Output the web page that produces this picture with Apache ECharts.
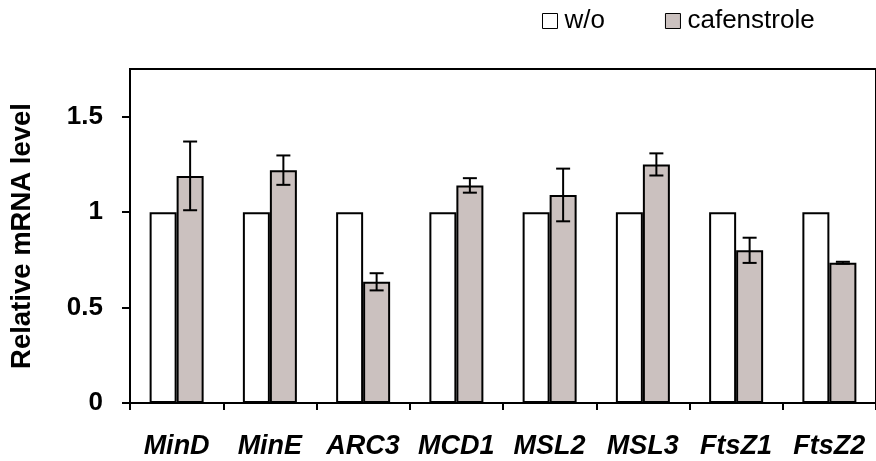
<!DOCTYPE html>
<html>
<head>
<meta charset="utf-8">
<script src="https://cdn.jsdelivr.net/npm/echarts@6/dist/echarts.min.js"></script>
<style>
  html, body { margin: 0; padding: 0; background: #fff; }
  #chart { width: 876px; height: 461px; }
</style>
</head>
<body>
<div id="chart"></div>
<script>
// data
const categories = ['MinD', 'MinE', 'ARC3', 'MCD1', 'MSL2', 'MSL3', 'FtsZ1', 'FtsZ2'];
const woValues = [1, 1, 1, 1, 1, 1, 1, 1];
const cafValues = [1.19, 1.22, 0.635, 1.14, 1.09, 1.25, 0.80, 0.735];
const cafErrors = [0.18, 0.077, 0.045, 0.038, 0.138, 0.058, 0.066, 0.005];
const yTicks = [0, 0.5, 1, 1.5];

const FONT = '"Liberation Sans", Arial, sans-serif';
const BAR_W = 27;
const CAP = 7;

const chart = echarts.init(document.getElementById('chart'));

// error bars drawn on the cafenstrole bars
const errData = categories.map((c, i) => [i, cafValues[i], cafErrors[i]]);
const renderErr = (params, api) => {
  const i = api.value(0);
  const v = api.value(1);
  const e = api.value(2);
  const hi = api.coord([i, v + e]);
  const lo = api.coord([i, v - e]);
  const x = hi[0] + BAR_W / 2;
  const st = { stroke: '#000', lineWidth: 2 };
  return {
    type: 'group',
    children: [
      { type: 'line', shape: { x1: x, y1: hi[1], x2: x, y2: lo[1] }, style: st },
      { type: 'line', shape: { x1: x - CAP, y1: hi[1], x2: x + CAP, y2: hi[1] }, style: st },
      { type: 'line', shape: { x1: x - CAP, y1: lo[1], x2: x + CAP, y2: lo[1] }, style: st }
    ]
  };
};

const option = {
  animation: false,
  textStyle: { fontFamily: FONT },
  legend: {
    data: ['w/o', 'cafenstrole'],
    left: 537,
    top: 3,
    icon: 'rect',
    itemWidth: 15,
    itemHeight: 15,
    itemGap: 60,
    itemStyle: { borderWidth: 1, borderColor: '#000' },
    textStyle: { fontSize: 26, color: '#000', fontFamily: FONT, padding: [0, 0, 0, 2] }
  },
  grid: {
    left: 130,
    right: -4,
    top: 69,
    bottom: 58,
    show: true,
    borderColor: '#000',
    borderWidth: 2,
    backgroundColor: 'transparent'
  },
  xAxis: {
    type: 'category',
    data: categories,
    axisLine: { lineStyle: { color: '#000', width: 2 } },
    axisTick: { show: true, length: 7, lineStyle: { color: '#000', width: 2 } },
    axisLabel: {
      color: '#000',
      fontSize: 27,
      fontWeight: 'bold',
      fontStyle: 'italic',
      fontFamily: FONT,
      margin: 30,
      interval: 0
    }
  },
  yAxis: {
    type: 'value',
    min: 0,
    max: 1.75,
    interval: 0.5,
    name: 'Relative mRNA level',
    nameLocation: 'middle',
    nameGap: 94,
    nameTextStyle: { color: '#000', fontSize: 27.5, fontWeight: 'bold', fontFamily: FONT },
    axisLine: { show: true, lineStyle: { color: '#000', width: 2 } },
    axisTick: { show: true, length: 8, lineStyle: { color: '#000', width: 2 } },
    splitLine: { show: false },
    axisLabel: {
      color: '#000',
      fontSize: 26,
      fontWeight: 'bold',
      fontFamily: FONT,
      margin: 27,
      showMaxLabel: false,
      formatter: (v) => (yTicks.includes(v) ? String(v) : '')
    }
  },
  series: [
    {
      name: 'w/o',
      type: 'bar',
      data: woValues,
      barWidth: BAR_W,
      barGap: '0%',
      itemStyle: { color: '#ffffff', borderColor: '#000', borderWidth: 2 }
    },
    {
      name: 'cafenstrole',
      type: 'bar',
      data: cafValues,
      barWidth: BAR_W,
      barGap: '0%',
      itemStyle: { color: '#cbc1bf', borderColor: '#000', borderWidth: 2 }
    },
    {
      name: 'err',
      type: 'custom',
      data: errData,
      renderItem: renderErr,
      z: 5,
      encode: { x: 0, y: 1 }
    }
  ]
};

chart.setOption(option);
</script>
</body>
</html>
